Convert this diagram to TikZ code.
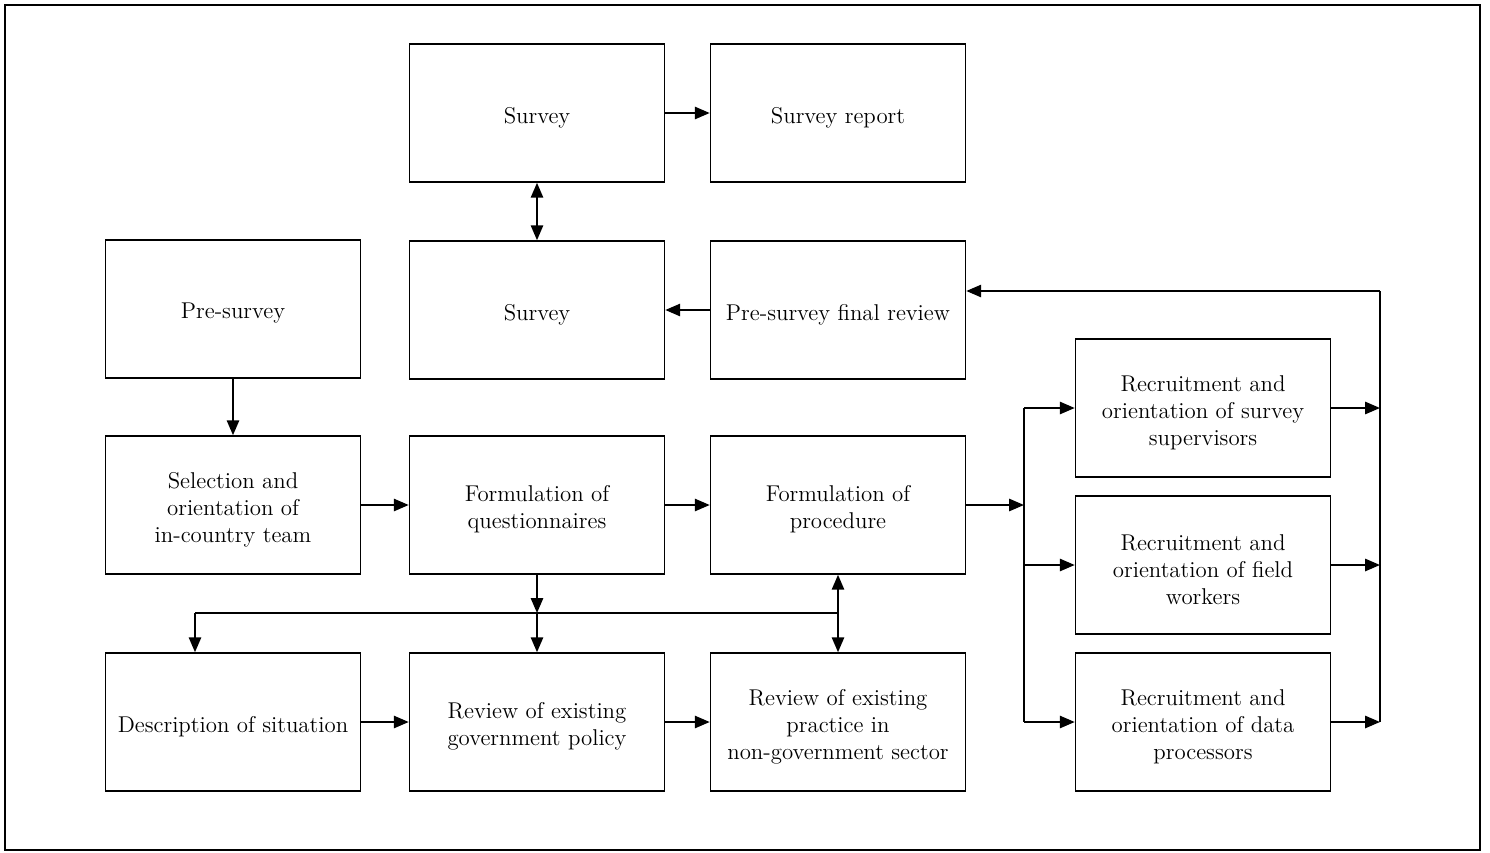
\documentclass[tikz,border=0pt]{standalone}
\usetikzlibrary{arrows.meta}
\begin{document}
\begin{tikzpicture}[x=0.02cm,y=-0.02cm,
  box/.style={draw,line width=0.9pt,minimum width=5.1cm,minimum height=2.76cm,
    inner sep=0pt,
    label={[txt]center:{#1}}},
  txt/.style={align=center,yshift=-0.09cm,font=\fontsize{13}{15.4}\selectfont},
  conn/.style={line width=1.1pt},
  arr/.style={conn,-{Triangle[length=8.5pt,width=7pt]}},
  darr/.style={conn,{Triangle[length=8.5pt,width=7pt]}-{Triangle[length=8.5pt,width=7pt]}}]
\useasboundingbox (0,0) rectangle (1490,852);
\draw[line width=0.9pt] (5,5) rectangle (1480,850);

% boxes
\node[box={Survey}] (s1) at (537,113) {};
\node[box={Survey report}] (sr) at (838,113) {};
\node[box={Pre-survey}] (ps) at (233,309) {};
\node[box={Survey}] (s2) at (537,310) {};
\node[box={Pre-survey final review}] (pfr) at (838,310) {};
\node[box={Selection and\\orientation of\\in-country team}] (sel) at (233,505) {};
\node[box={Formulation of\\questionnaires}] (fq) at (537,505) {};
\node[box={Formulation of\\procedure}] (fp) at (838,505) {};
\node[box={Description of situation}] (desc) at (233,722) {};
\node[box={Review of existing\\government policy}] (rg) at (537,722) {};
\node[box={Review of existing\\practice in\\non-government sector}] (rp) at (838,722) {};
\node[box={Recruitment and\\orientation of survey\\supervisors}] (r1) at (1203,408) {};
\node[box={Recruitment and\\orientation of field\\workers}] (r2) at (1203,565) {};
\node[box={Recruitment and\\orientation of data\\processors}] (r3) at (1203,722) {};

% junction points
\coordinate (bl) at (195,613);
\coordinate (bm) at (fq.south |- bl);
\coordinate (br) at (fp.south |- bl);
\coordinate (lb) at (1024,505);
\coordinate (rt) at (1380,291);

% top part
\draw[arr] (s1) -- (sr);
\draw[darr] (s1) -- (s2);
\draw[arr] (pfr) -- (s2);
\draw[arr] (ps) -- (sel);
\draw[arr] (sel) -- (fq);
\draw[arr] (fq) -- (fp);

% distribution below the formulation boxes
\draw[conn] (bl) -- (br);
\draw[arr] (fq.south) -- (bm);
\draw[arr] (bm) -- (rg.north);
\draw[arr] (bl) -- (bl |- desc.north);
\draw[darr] (fp.south) -- (rp.north);
\draw[arr] (desc) -- (rg);
\draw[arr] (rg) -- (rp);

% recruitment branches
\draw[arr] (fp.east) -- (lb);
\draw[conn] (lb |- r1) -- (lb |- r3);
\draw[arr] (lb |- r1) -- (r1.west);
\draw[arr] (lb |- r2) -- (r2.west);
\draw[arr] (lb |- r3) -- (r3.west);
\draw[arr] (r1.east) -- (rt |- r1);
\draw[arr] (r2.east) -- (rt |- r2);
\draw[arr] (r3.east) -- (rt |- r3);
\draw[conn] (rt |- r3) -- (rt);
\draw[arr] (rt) -- (pfr.east |- rt);
\end{tikzpicture}
\end{document}
